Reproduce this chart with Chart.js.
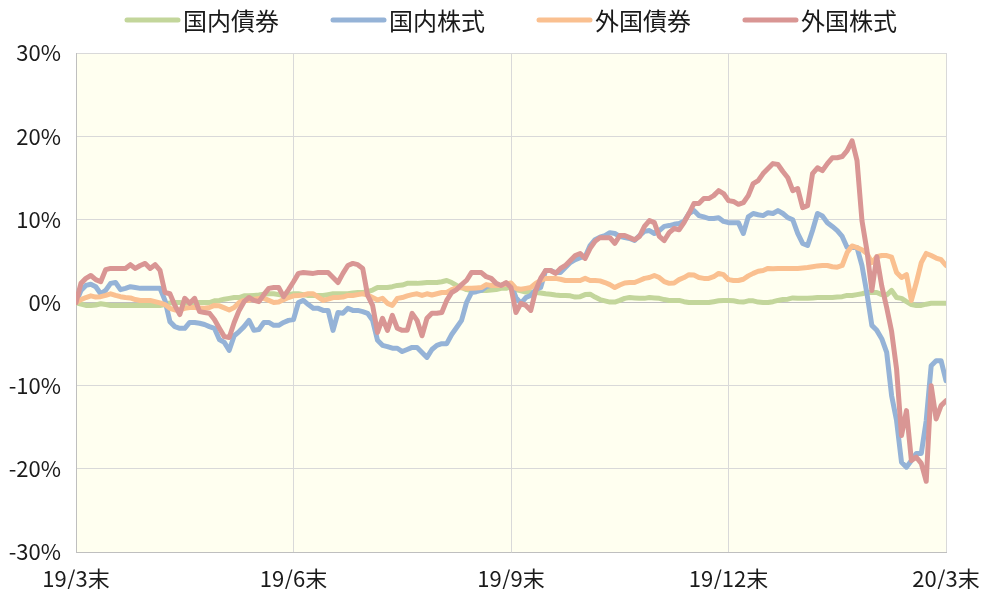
<!DOCTYPE html>
<html>
<head>
<meta charset="utf-8">
<script src="https://cdn.jsdelivr.net/npm/chart.js@4.4.0/dist/chart.umd.min.js"></script>
<style>
html,body{margin:0;padding:0;background:#ffffff;}
#wrap{width:984px;height:589px;}
</style>
</head>
<body>
<div id="wrap"><canvas id="c" width="984" height="589"></canvas></div>
<script>
// ---- data (cumulative return, %) : one value per step, 44 steps per quarter ----
const quarterLabels = ['19/3末', '19/6末', '19/9末', '19/12末', '20/3末'];
const stepsPerQuarter = 44;
const seriesNames = ['国内債券', '国内株式', '外国債券', '外国株式'];

const domesticBond = [
  0,-0.2,-0.35,-0.35,-0.3,-0.15,-0.25,-0.35,-0.35,-0.35,-0.35,-0.35,-0.35,-0.35,-0.35,-0.35,-0.35,-0.35,-0.25,-0.05,
  0,0,-0.1,-0.05,0,0,0,0,0.2,0.25,0.4,0.5,0.6,0.6,0.8,0.8,0.85,0.9,1.0,1.05,1.05,0.95,0.85,0.95,1.05,
  1.05,0.95,0.85,0.85,0.85,0.85,0.95,1.05,1.05,1.05,1.05,1.15,1.2,1.2,1.3,1.5,1.8,1.8,1.8,1.9,
  2.05,2.1,2.3,2.3,2.3,2.35,2.4,2.4,2.4,2.5,2.65,2.4,2.05,1.8,1.55,1.45,1.45,1.45,1.45,1.5,1.55,1.7,1.7,1.9,
  1.55,1.4,1.25,1.2,1.2,1.15,1.05,1.0,0.9,0.85,0.85,0.8,0.65,0.7,0.95,1.0,0.65,0.35,0.2,0.05,
  0.05,0.25,0.5,0.6,0.55,0.5,0.5,0.6,0.55,0.5,0.35,0.25,0.25,0.25,0.1,0,0,0,0,0,0.1,0.2,0.25,0.25,
  0.2,0.1,0.05,0.2,0.2,0.05,0,0,0.1,0.25,0.35,0.4,0.55,0.5,0.5,0.5,0.55,0.6,0.6,0.6,
  0.6,0.65,0.7,0.85,0.85,0.95,1.05,1.2,1.2,1.2,0.95,0.9,1.45,0.6,0.5,0.1,-0.25,-0.35,-0.35,-0.2,-0.1,-0.1,-0.1,-0.1
];

const domesticStock = [
  0,1.45,2.05,2.2,1.9,1.05,1.45,2.3,2.4,1.55,1.7,1.9,1.8,1.7,1.7,1.7,1.7,1.7,0.25,-2.3,
  -2.9,-3.1,-3.1,-2.4,-2.4,-2.5,-2.65,-2.9,-3.1,-4.45,-4.8,-5.75,-4.0,-3.5,-2.9,-2.15,-3.35,-3.25,-2.4,-2.4,-2.75,-2.75,-2.4,-2.15,-2.05,
  0,0.25,-0.25,-0.7,-0.7,-0.95,-0.95,-3.35,-1.2,-1.3,-0.7,-0.95,-0.95,-1.1,-1.3,-2.15,-4.55,-5.15,-5.3,-5.5,
  -5.5,-5.9,-5.65,-5.4,-5.4,-6.0,-6.6,-5.65,-5.15,-4.95,-4.95,-3.85,-3.0,-2.15,0,1.2,1.3,1.45,1.9,2.05,2.05,2.05,2.3,2.15,
  0.6,-0.1,0.6,0.85,1.55,1.8,3.85,3.85,3.6,3.6,4.2,4.8,5.15,5.4,5.5,6.85,7.55,7.85,8.05,8.4,
  8.3,7.95,7.8,7.7,7.45,8.05,8.55,8.65,8.3,8.65,9.15,9.25,9.4,9.5,9.75,10.7,11.05,10.45,10.3,10.1,10.1,10.2,9.75,9.6,
  9.6,9.6,8.3,10.3,10.7,10.55,10.45,10.8,10.7,11.05,10.7,10.2,9.95,8.3,7.1,6.85,8.65,10.7,10.4,9.6,
  9.15,8.65,7.95,6.6,6.6,6.6,4.45,1.1,-2.75,-3.35,-4.35,-6.0,-11.2,-14.2,-19.2,-19.8,-19.0,-18.15,-18.15,-14.2,-7.6,-7.0,-7.0,-9.4
];

const foreignBond = [
  0,0.35,0.6,0.8,0.65,0.7,0.85,1.05,0.85,0.7,0.6,0.55,0.35,0.25,0.25,0.25,0.1,-0.05,-0.25,-0.7,
  -0.9,-0.9,-0.7,-0.6,-0.6,-0.65,-0.7,-0.6,-0.35,-0.4,-0.65,-0.9,-0.6,0,0.25,0.25,0.4,0.5,0.5,0.25,0,0.05,0.35,0.6,0.8,
  0.85,0.9,1.05,1.05,0.65,0.25,0.4,0.6,0.6,0.65,0.85,0.85,0.95,1.05,0.9,0.6,0.3,0.5,-0.1,-0.35,
  0.5,0.6,0.8,0.95,1.05,0.85,1.05,0.9,1.05,1.2,1.2,1.55,1.75,1.8,1.7,1.7,1.75,1.8,2.15,2.05,2.05,2.05,2.2,2.35,
  1.7,1.6,1.7,1.8,2.3,2.65,2.9,2.9,2.9,2.8,2.65,2.65,2.65,2.65,2.9,2.65,2.65,2.6,2.4,2.15,
  1.8,2.1,2.35,2.4,2.4,2.65,2.9,3.0,3.25,3.0,2.5,2.3,2.35,2.75,3.0,3.35,3.3,3.0,2.9,2.9,3.1,3.5,3.35,2.75,
  2.65,2.65,2.8,3.2,3.5,3.75,3.85,4.1,4.05,4.1,4.1,4.1,4.1,4.1,4.15,4.2,4.3,4.4,4.45,4.45,
  4.3,4.25,4.45,6.0,6.8,6.6,6.35,5.9,4.8,5.5,5.65,5.65,5.45,3.6,3.0,3.35,0.25,2.4,4.8,5.9,5.65,5.35,5.15,4.45
];

const foreignStock = [
  0,2.3,2.9,3.25,2.75,2.5,3.95,4.1,4.1,4.1,4.1,4.55,4.1,4.45,4.7,4.1,4.55,3.85,1.2,1.05,
  -0.35,-1.45,0.5,-0.1,0.5,-1.1,-1.2,-1.3,-2.05,-3.1,-4.1,-4.2,-2.4,-0.95,0.1,0.6,0.25,0.1,0.95,1.7,1.8,1.8,0.7,1.55,2.5,
  3.5,3.6,3.55,3.5,3.6,3.6,3.6,3.0,2.4,3.5,4.45,4.7,4.55,4.1,0.85,-0.35,-3.6,-1.9,-3.35,-1.55,
  -3.1,-3.35,-3.35,-1.3,-2.15,-4.0,-1.9,-1.3,-1.3,-1.2,0.25,1.2,1.55,2.15,2.65,3.6,3.6,3.6,3.1,2.9,2.3,2.05,2.4,1.8,
  -1.2,-0.1,-0.35,-0.95,1.45,2.9,3.85,3.85,3.5,4.1,4.45,5.05,5.65,5.9,5.3,6.5,7.35,7.8,7.8,7.8,
  7.1,8.05,8.05,7.8,7.55,7.95,9.15,9.85,9.6,7.95,7.45,8.4,8.9,8.75,9.6,10.7,11.9,11.9,12.5,12.5,12.85,13.45,13.1,12.25,
  12.15,11.8,12.0,12.85,14.3,14.65,15.5,16.1,16.7,16.6,15.75,15.0,13.45,13.7,11.4,11.65,15.5,16.2,15.85,16.7,
  17.4,17.4,17.55,18.25,19.45,17.05,9.85,6.25,1.45,5.5,2.0,-0.6,-3.5,-8.0,-16.0,-13.0,-19.0,-18.6,-19.35,-21.5,-10.0,-14.0,-12.4,-11.8
];

const yTickValues = [-30, -20, -10, 0, 10, 20, 30];

// ---- styling ----
const seriesColors = ['#C3D69B', '#95B3D7', '#FAC090', '#D99694'];
const tickFont = "'Noto Sans CJK JP','Noto Sans',sans-serif";
const legendFont = "'Noto Sans CJK JP',sans-serif";

const allSeries = [domesticBond, domesticStock, foreignBond, foreignStock];
const toPoints = arr => arr.map((v, i) => ({x: i, y: v}));

const datasets = allSeries.map((arr, k) => ({
  label: seriesNames[k],
  data: toPoints(arr),
  borderColor: seriesColors[k],
  backgroundColor: seriesColors[k],
  borderWidth: 5,
  pointRadius: 0,
  pointHoverRadius: 0,
  tension: 0,
  fill: false,
  order: 4 - k,
  borderJoinStyle: 'round',
  borderCapStyle: 'round'
}));

const plotBg = {
  id: 'plotBg',
  beforeDraw(chart) {
    const {ctx, chartArea: a} = chart;
    ctx.save();
    ctx.fillStyle = '#FFFFF0';
    ctx.fillRect(a.left, a.top, a.right - a.left, a.bottom - a.top);
    ctx.restore();
  }
};

const lineLegend = {
  id: 'lineLegend',
  afterDraw(chart) {
    const {ctx, chartArea: a} = chart;
    const sampleW = 55, textGap = 3, itemGap = 52, yMid = 20;
    ctx.save();
    ctx.font = '24px ' + legendFont;
    const widths = seriesNames.map(n => sampleW + textGap + ctx.measureText(n).width);
    const total = widths.reduce((s, w) => s + w, 0) + itemGap * (widths.length - 1);
    let x = (a.left + a.right) / 2 - total / 2;
    seriesNames.forEach((n, k) => {
      ctx.strokeStyle = seriesColors[k];
      ctx.lineWidth = 5;
      ctx.lineCap = 'round';
      ctx.beginPath();
      ctx.moveTo(x + 2, yMid);
      ctx.lineTo(x + sampleW - 2, yMid);
      ctx.stroke();
      ctx.fillStyle = '#1a1a1a';
      ctx.textBaseline = 'middle';
      ctx.textAlign = 'left';
      ctx.fillText(n, x + sampleW + textGap, yMid + 1);
      x += widths[k] + itemGap;
    });
    ctx.restore();
  }
};

new Chart(document.getElementById('c'), {
  type: 'line',
  data: {datasets},
  options: {
    responsive: false,
    animation: false,
    layout: {padding: {top: 53, right: 38, bottom: 0, left: 0}},
    plugins: {
      legend: {display: false},
      tooltip: {enabled: false}
    },
    scales: {
      x: {
        type: 'linear',
        min: 0,
        max: stepsPerQuarter * (quarterLabels.length - 1),
        afterBuildTicks(scale) {
          scale.ticks = quarterLabels.map((_, i) => ({value: i * stepsPerQuarter}));
        },
        afterFit(scale) {
          scale.height = 37;
          scale.paddingLeft = 0;
          scale.paddingRight = 0;
        },
        ticks: {
          autoSkip: false,
          maxRotation: 0,
          padding: 13,
          color: '#1a1a1a',
          font: {family: tickFont, size: 22},
          callback: v => quarterLabels[Math.round(v / stepsPerQuarter)]
        },
        grid: {color: '#D9D9D9', lineWidth: 1, drawTicks: false},
        border: {display: true, color: '#BFBFBF'}
      },
      y: {
        min: -30,
        max: 30,
        afterBuildTicks(scale) {
          scale.ticks = yTickValues.map(v => ({value: v}));
        },
        afterFit(scale) {
          scale.width = 76;
          scale.paddingTop = 0;
          scale.paddingBottom = 0;
        },
        ticks: {
          padding: 15,
          color: '#1a1a1a',
          font: {family: tickFont, size: 22},
          callback: v => v + '%'
        },
        grid: {
          color: ctx => (ctx.tick && ctx.tick.value === 0) ? '#BFBFBF' : '#D9D9D9',
          lineWidth: 1,
          drawTicks: false
        },
        border: {display: true, color: '#BFBFBF'}
      }
    }
  },
  plugins: [plotBg, lineLegend]
});
</script>
</body>
</html>
